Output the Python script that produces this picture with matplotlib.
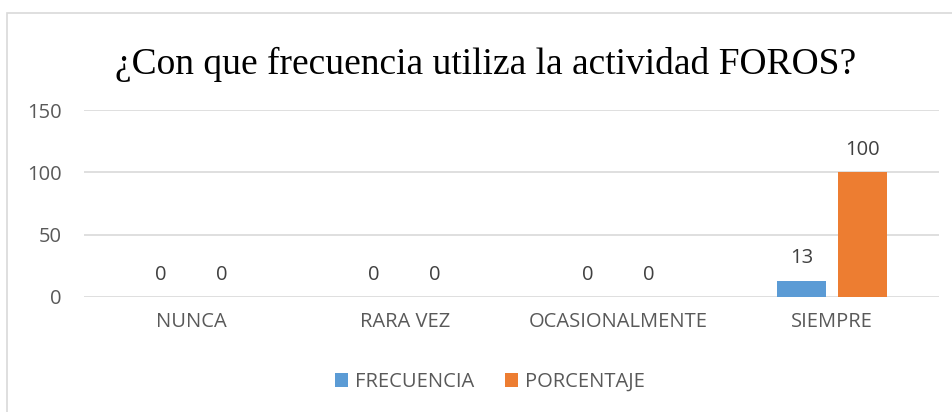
import matplotlib.pyplot as plt
import numpy as np
from matplotlib.patches import Rectangle

categories = ['NUNCA', 'RARA VEZ', 'OCASIONALMENTE', 'SIEMPRE']
frecuencia = [0, 0, 0, 13]
porcentaje = [0, 0, 0, 100]
series_names = ['FRECUENCIA', 'PORCENTAJE']
yticks = [0, 50, 100, 150]

blue = '#5B9BD5'
orange = '#ED7D31'
grey_text = '#595959'
grid_col = '#D9D9D9'
sans = 'Open Sans'
fs = 14.5

fig = plt.figure(figsize=(9.53, 4.12), dpi=100)
ax = fig.add_axes([84 / 953, 1 - 297 / 412, (939 - 84) / 953, (297 - 110) / 412])

# chart frame
fig.patches.append(Rectangle((7 / 953, -0.1), 1.2, 1.1 - 13 / 412,
                             transform=fig.transFigure, fill=False,
                             edgecolor=grid_col, linewidth=1.2))

x = np.arange(len(categories))
w = 0.23
off = 0.143
b1 = ax.bar(x - off, frecuencia, w, color=blue, label=series_names[0], zorder=3)
b2 = ax.bar(x + off, porcentaje, w, color=orange, label=series_names[1], zorder=3)

for bars in (b1, b2):
    ax.bar_label(bars, padding=9, fontsize=fs, color='#404040', family=sans)

ax.set_xlim(-0.5, len(categories) - 0.5)
ax.set_ylim(0, 150)
ax.set_yticks(yticks)
ax.set_xticks(x)
ax.set_xticklabels(categories)
ax.tick_params(axis='both', length=0, labelsize=fs, labelcolor=grey_text)
ax.tick_params(axis='y', pad=16)
ax.tick_params(axis='x', pad=11)
for lab in ax.get_xticklabels() + ax.get_yticklabels():
    lab.set_family(sans)

ax.grid(axis='y', color=grid_col, linewidth=1.2, zorder=0)
for s in ax.spines.values():
    s.set_visible(False)

fig.text(486 / 953, 1 - 64 / 412, '¿Con que frecuencia utiliza la actividad FOROS?',
         ha='center', va='center', fontsize=27, family='Liberation Serif')

fig.legend(loc='center', bbox_to_anchor=(490 / 953, 1 - 382 / 412), ncol=2,
           frameon=False, handlelength=0.65, handleheight=0.65, columnspacing=1.5,
           handletextpad=0.35, prop={'family': sans, 'size': fs},
           labelcolor=grey_text)

fig.savefig('out.png', dpi=100)
